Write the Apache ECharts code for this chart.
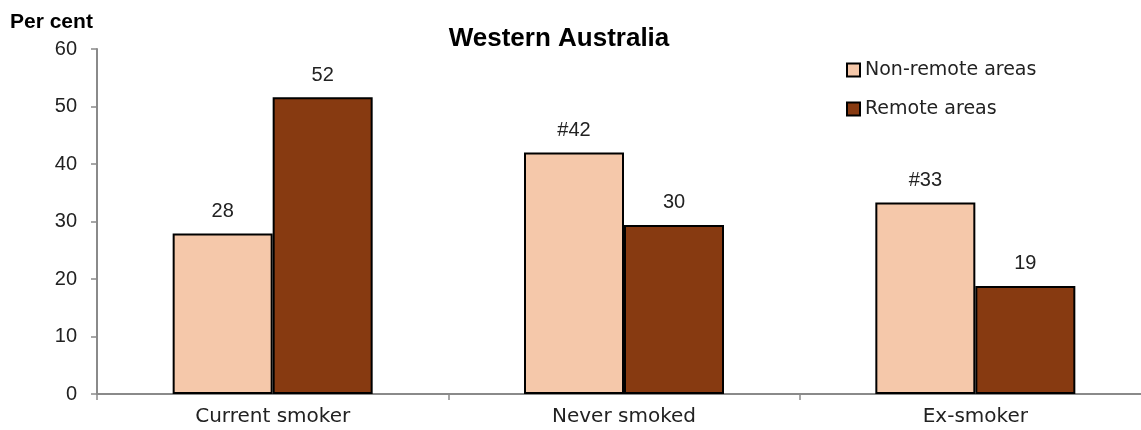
<!DOCTYPE html>
<html><head><meta charset="utf-8">
<script src="https://cdn.jsdelivr.net/npm/echarts@6/dist/echarts.min.js"></script>
<style>html,body{margin:0;padding:0;background:#fff;overflow:hidden;width:1141px;height:430px}#c{width:1151px;height:430px}</style>
</head><body><div id="c"></div>
<script>
const categories = ["Current smoker", "Never smoked", "Ex-smoker"];
const nonRemote = [27.9, 42.0, 33.3];
const remote = [51.6, 29.4, 18.8];
const nonRemoteLabels = ["28", "#42", "#33"];
const remoteLabels = ["52", "30", "19"];
const yTicks = [0, 10, 20, 30, 40, 50, 60];

const font = '"Liberation Sans", Arial, sans-serif';
const wideFont = '"DejaVu Sans", "Liberation Sans", sans-serif';
const chart = echarts.init(document.getElementById('c'));
chart.setOption({
  animation: false,
  textStyle: { fontFamily: font },
  title: [
    { text: 'Western Australia', left: 559, top: 26, textAlign: 'center', padding: 0,
      textStyle: { fontFamily: font, fontSize: 26, fontWeight: 'bold', color: '#000' } },
    { text: 'Per cent', left: 10, top: 12, padding: 0,
      textStyle: { fontFamily: font, fontSize: 21, fontWeight: 'bold', color: '#000' } }
  ],
  legend: {
    orient: 'vertical', left: 846, top: 60, itemGap: 19, padding: 0,
    itemWidth: 13, itemHeight: 13, icon: 'rect',
    textStyle: { fontFamily: wideFont, fontSize: 19, lineHeight: 20, color: '#222', padding: [0, 0, 0, 0] },
    data: ['Non-remote areas', 'Remote areas']
  },
  grid: { left: 97, right: 0, top: 49, bottom: 36, containLabel: false },
  xAxis: {
    type: 'category', data: categories,
    axisLine: { lineStyle: { color: '#8a8a8a', width: 2 } },
    axisTick: { show: true, length: 6, lineStyle: { color: '#8a8a8a', width: 1.5 } },
    axisLabel: { fontFamily: wideFont, fontSize: 20, color: '#222', margin: 13 }
  },
  yAxis: {
    type: 'value', min: yTicks[0], max: yTicks[yTicks.length - 1], interval: 10,
    axisLine: { show: true, lineStyle: { color: '#8a8a8a', width: 2 } },
    axisTick: { show: true, length: 6, lineStyle: { color: '#8a8a8a', width: 1.5 } },
    splitLine: { show: false },
    axisLabel: { fontFamily: font, fontSize: 20, color: '#222', margin: 20 }
  },
  series: [
    { name: 'Non-remote areas', type: 'bar', data: nonRemote, barWidth: 100, barGap: '0%',
      itemStyle: { color: '#F5C8AA', borderColor: '#000', borderWidth: 2 },
      label: { show: true, position: 'top', distance: 12, fontFamily: font, fontSize: 20, color: '#222',
        formatter: p => nonRemoteLabels[p.dataIndex] } },
    { name: 'Remote areas', type: 'bar', data: remote, barWidth: 100,
      itemStyle: { color: '#873A11', borderColor: '#000', borderWidth: 2 },
      label: { show: true, position: 'top', distance: 12, fontFamily: font, fontSize: 20, color: '#222',
        formatter: p => remoteLabels[p.dataIndex] } }
  ]
});
</script></body></html>
